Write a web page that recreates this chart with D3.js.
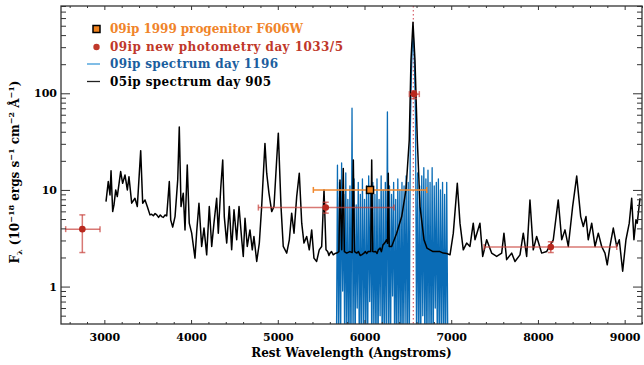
<!DOCTYPE html>
<html><head><meta charset="utf-8">
<script src="https://cdn.jsdelivr.net/npm/d3@7/dist/d3.min.js"></script>
<style>body{margin:0;background:#fff}svg{display:block}</style>
</head><body><svg id="c" width="644" height="365"></svg>
<script>
// ---------- DATA ----------
const xDomain = [2500, 9200];
const yDomain = [0.41, 800];
const xMajor = [3000, 4000, 5000, 6000, 7000, 8000, 9000];
const xMinor = [2600,2800,3200,3400,3600,3800,4200,4400,4600,4800,5200,5400,5600,5800,6200,6400,6600,6800,7200,7400,7600,7800,8200,8400,8600,8800,9200];
const yMajor = [1, 10, 100];
const yMinor = [0.5,0.6,0.7,0.8,0.9,2,3,4,5,6,7,8,9,20,30,40,50,60,70,80,90,200,300,400,500,600,700,800];
const halpha = 6563;

// 05ip spectrum day 905
const blackWave = [3019,3045,3065,3077,3096,3111,3131,3149,3188,3211,3238,3265,3284,3315,3353,3380,3419,3442,3469,3495,3526,3545,3565,3585,3604,3625,3645,3661,3680,3700,3719,3749,3765,3788,3815,3846,3864,3884,3910,3930,3956,3979,4007,4045,4065,4091,4122,4149,4180,4210,4238,4264,4295,4314,4342,4365,4383,4411,4441,4468,4495,4526,4553,4584,4602,4622,4648,4679,4706,4725,4757,4787,4814,4852,4872,4898,4930,4956,4987,5006,5037,5063,5103,5133,5160,5187,5218,5248,5276,5302,5333,5363,5391,5417,5448,5478,5506,5533,5556,5575,5590,5602,5620,5640,5660,5679,5705,5717,5737,5755,5768,5794,5830,5858,5871,5885,5910,5930,5950,5967,5990,6010,6025,6043,6072,6083,6095,6109,6130,6145,6159,6180,6195,6213,6230,6256,6266,6274,6285,6313,6371,6429,6478,6516,6536,6559,6582,6609,6640,6686,6720,6755,6790,6832,6870,6908,6950,6986,7024,7070,7101,7139,7178,7216,7254,7274,7331,7363,7409,7466,7524,7582,7608,7639,7697,7735,7793,7831,7870,7908,7946,7985,8043,8101,8177,8234,8274,8312,8350,8400,8447,8493,8523,8554,8580,8620,8658,8696,8735,8773,8799,8830,8869,8908,8938,8977,9015,9053,9081,9107,9130,9145,9177];
const blackFlux = [7.57,12.2,8.88,15.8,5.97,7.0,10,8.53,15.5,11.7,14.3,10,13.7,7.29,8.2,6.73,25.5,7.29,7.88,6.73,5.52,5.6,5.4,5.7,5.52,5.2,5.5,5.3,5.2,5.5,5.38,12.2,4.9,4.12,5.3,12.7,44.7,6.73,9.25,3.86,18.1,4.53,3.57,1.97,3.71,7.29,2.6,4.03,2.13,6.73,2.6,4.53,8.2,3.57,10.4,20.4,5.3,2.82,6.73,2.4,6.22,3.05,6.73,3.05,2.05,5.1,2.6,3.86,2.4,3.3,1.82,2.82,6.73,30.3,14.9,9.25,5.97,6.73,20.4,38.7,6.73,2.6,2.22,3.05,5.75,3.57,8.53,14.9,4.53,2.82,3.3,2.4,3.86,1.97,1.82,2.4,2.6,10,2.4,2.3,2.1,2.22,2.3,2.13,2.2,2.22,2.3,12.7,2.4,16.7,2.3,2.22,2.3,2.25,20.4,2.3,2.22,2.3,2.1,2.13,2.2,2.3,2.2,2.31,2.3,20.4,2.3,2.29,2.3,2.2,2.4,2.5,2.3,2.7,2.8,3.05,2.8,14.9,2.6,2.6,3.57,5.3,10,32.8,220,542,220,32.8,6.73,3.05,2.5,2.4,2.3,2.31,2.3,2.22,2.2,2.13,3.57,11.7,4.53,2.4,2.82,2.6,4.53,3.05,4.53,2.05,3.05,2.22,2.05,2.22,3.57,1.9,2.22,1.82,2.13,3.57,2.05,7.88,2.4,3.3,2.22,2.31,3.05,7.88,3.05,3.86,2.6,6.73,13.9,5.3,4.18,5.3,3.05,4.53,2.6,3.57,2.6,2.22,1.68,2.6,4.03,2.6,3.05,1.44,3.05,4.53,8.2,3.05,4.9,4.53,8.2];

// 09ip spectrum day 1196
const blueWave = [5676,5688,5700,5712,5724,5736,5748,5760,5772,5784,5796,5808,5820,5832,5844,5856,5868,5880,5892,5904,5916,5928,5940,5952,5964,5976,5988,6000,6012,6024,6036,6048,6060,6072,6084,6096,6108,6120,6132,6144,6156,6168,6180,6192,6204,6216,6228,6240,6252,6264,6276,6288,6300,6312,6324,6336,6348,6360,6372,6384,6396,6408,6420,6432,6444,6456,6468,6480,6492,6504,6516,6528,6540,6552,6564,6576,6588,6600,6612,6624,6636,6648,6660,6672,6684,6696,6708,6720,6732,6744,6756,6768,6780,6792,6804,6816,6828,6840,6852,6864,6876,6888,6900,6912,6924,6936,6948,6960,6972];
const blueFlux = [0.2,18,0.3,12,0.2,19,0.9,9,0.2,15,0.3,8,0.2,11,0.2,70,0.3,13,0.2,7,0.6,12,0.2,9,0.2,13,0.4,8,0.2,11,0.2,14,0.7,10,0.2,12,0.3,9,0.2,13,0.2,8,0.5,14,0.2,10,0.2,12,0.3,64,0.2,11,0.2,9,0.8,12,0.2,8,0.2,13,0.3,10,0.2,12,0.2,11,0.4,14,0.2,12,0.2,40,150,330,380,200,60,0.3,15,0.2,11,0.2,14,0.5,17,0.2,13,0.2,16,0.3,12,0.2,17,0.2,11,0.6,12,0.2,13,0.2,10,0.3,12,0.2,9,0.2,12,0.3,0.2];

// 09ip 1999 progenitor F606W
const progWave = [6064], progFlux = [10], progXLo = [5410], progXHi = [6718];

// 09ip new photometry day 1033/5
const photWave = [2746, 5553, 6571, 8148];
const photFlux = [3.93, 6.57, 98, 2.56];
const photXLo = [2554, 4776, 6517, 7379];
const photXHi = [2950, 6341, 6632, 8909];
const photYLo = [2.25, 5.75, 88, 2.25];
const photYHi = [5.52, 7.46, 106, 2.91];

const legendLabels = ["09ip 1999 progenitor F606W", "09ip new photometry day 1033/5", "09ip spectrum day 1196", "05ip spectrum day 905"];
const legendText = ["#f0842a", "#c0382a", "#1b5e9e", "#000000"];
const legendWidth = [193, 233, 168, 161];

// ---------- DRAW ----------
const FONT = "'DejaVu Serif', serif";
const svg = d3.select('#c');
const M = {l:61, r:642, t:6, b:324};
const x = d3.scaleLinear().domain(xDomain).range([M.l, M.r]);
const y = d3.scaleLog().domain(yDomain).range([M.b, M.t]);

svg.append('defs').append('clipPath').attr('id','clip')
  .append('rect').attr('x',M.l).attr('y',M.t).attr('width',M.r-M.l).attr('height',M.b-M.t);
const plot = svg.append('g').attr('clip-path','url(#clip)');

// H-alpha dotted line
plot.append('line').attr('x1',x(halpha)).attr('x2',x(halpha)).attr('y1',M.t).attr('y2',M.b)
  .attr('stroke','#d8606a').attr('stroke-width',1.2).attr('stroke-dasharray','1.5,2.5');

const line = d3.line().x(d=>x(d[0])).y(d=>y(d[1]));
plot.append('path').datum(d3.zip(blueWave, blueFlux)).attr('d', line)
  .attr('fill','none').attr('stroke','#0a6cb6').attr('stroke-width',1.3).attr('stroke-linejoin','round');
plot.append('path').datum(d3.zip(blackWave, blackFlux)).attr('d', line)
  .attr('fill','none').attr('stroke','#000').attr('stroke-width',1.5).attr('stroke-linejoin','round');

// error bars
function errX(g, xs, ys, lo, hi, col, op){
  xs.forEach((_,i)=>{
    g.append('line').attr('x1',x(lo[i])).attr('x2',x(hi[i])).attr('y1',y(ys[i])).attr('y2',y(ys[i]))
      .attr('stroke',col).attr('stroke-width',1.5).attr('opacity',op);
    [lo[i],hi[i]].forEach(v=>g.append('line').attr('x1',x(v)).attr('x2',x(v))
      .attr('y1',y(ys[i])-3).attr('y2',y(ys[i])+3).attr('stroke',col).attr('stroke-width',1.5).attr('opacity',op));
  });
}
function errY(g, xs, lo, hi, col, op){
  xs.forEach((_,i)=>{
    g.append('line').attr('x1',x(xs[i])).attr('x2',x(xs[i])).attr('y1',y(lo[i])).attr('y2',y(hi[i]))
      .attr('stroke',col).attr('stroke-width',1.5).attr('opacity',op);
    [lo[i],hi[i]].forEach(v=>g.append('line').attr('x1',x(xs[i])-3).attr('x2',x(xs[i])+3)
      .attr('y1',y(v)).attr('y2',y(v)).attr('stroke',col).attr('stroke-width',1.5).attr('opacity',op));
  });
}
const eg = plot.append('g');
errX(eg, progWave, progFlux, progXLo, progXHi, '#f0882e', 1);
errX(eg, photWave, photFlux, photXLo, photXHi, '#c8403a', 0.7);
errY(eg, photWave, photYLo, photYHi, '#c8403a', 0.7);
eg.selectAll('circle.p').data(d3.zip(photWave, photFlux)).join('circle')
  .attr('cx',d=>x(d[0])).attr('cy',d=>y(d[1])).attr('r',3.3).attr('fill','#b8281e');
eg.selectAll('rect.p').data(d3.zip(progWave, progFlux)).join('rect')
  .attr('x',d=>x(d[0])-3.5).attr('y',d=>y(d[1])-3.5).attr('width',7).attr('height',7)
  .attr('fill','#f0821e').attr('stroke','#000').attr('stroke-width',1.5);

// axes
function styleAxis(g){
  g.select('.domain').remove();
  g.selectAll('line').attr('stroke','#333').attr('stroke-width',1);
  g.selectAll('text').attr('font-family',FONT).attr('font-weight','bold').attr('font-size',11).attr('fill','#000');
}
svg.append('g').attr('transform',`translate(0,${M.b})`)
  .call(d3.axisBottom(x).tickValues(xMajor).tickSizeInner(-4).tickSizeOuter(0).tickPadding(9).tickFormat(d3.format('d'))).call(styleAxis);
svg.append('g').attr('transform',`translate(0,${M.b})`)
  .call(d3.axisBottom(x).tickValues(xMinor).tickSizeInner(-2).tickSizeOuter(0).tickFormat('')).call(styleAxis);
svg.append('g').attr('transform',`translate(0,${M.t})`)
  .call(d3.axisTop(x).tickValues(xMajor).tickSizeInner(-4).tickSizeOuter(0).tickFormat('')).call(styleAxis);
svg.append('g').attr('transform',`translate(0,${M.t})`)
  .call(d3.axisTop(x).tickValues(xMinor).tickSizeInner(-2).tickSizeOuter(0).tickFormat('')).call(styleAxis);
svg.append('g').attr('transform',`translate(${M.l},0)`)
  .call(d3.axisLeft(y).tickValues(yMajor).tickSizeInner(-9).tickSizeOuter(0).tickPadding(4).tickFormat(d3.format('d'))).call(styleAxis);
svg.append('g').attr('transform',`translate(${M.l},0)`)
  .call(d3.axisLeft(y).tickValues(yMinor).tickSizeInner(-5).tickSizeOuter(0).tickFormat('')).call(styleAxis);
svg.append('g').attr('transform',`translate(${M.r},0)`)
  .call(d3.axisRight(y).tickValues(yMajor).tickSizeInner(-9).tickSizeOuter(0).tickFormat('')).call(styleAxis);
svg.append('g').attr('transform',`translate(${M.r},0)`)
  .call(d3.axisRight(y).tickValues(yMinor).tickSizeInner(-5).tickSizeOuter(0).tickFormat('')).call(styleAxis);

svg.append('rect').attr('x',M.l).attr('y',M.t).attr('width',M.r-M.l).attr('height',M.b-M.t)
  .attr('fill','none').attr('stroke','#333').attr('stroke-width',1.3);

// axis titles
svg.append('text').attr('x',(M.l+M.r)/2).attr('y',357).attr('text-anchor','middle')
  .attr('font-family',FONT).attr('font-weight','bold').attr('font-size',12).text('Rest Wavelength (Angstroms)');

const yl = svg.append('text').attr('transform','translate(18.5,172) rotate(-90)').attr('text-anchor','middle')
  .attr('font-family',FONT).attr('font-weight','bold').attr('font-size',12);
yl.append('tspan').text('F');
yl.append('tspan').attr('dy',3).attr('font-size',8).text('λ');
yl.append('tspan').attr('dy',-3).text(' (10');
yl.append('tspan').attr('dy',-5).attr('font-size',8).text('−18');
yl.append('tspan').attr('dy',5).text(' ergs s');
yl.append('tspan').attr('dy',-5).attr('font-size',8).text('−1');
yl.append('tspan').attr('dy',5).text(' cm');
yl.append('tspan').attr('dy',-5).attr('font-size',8).text('−2');
yl.append('tspan').attr('dy',5).text(' Å');
yl.append('tspan').attr('dy',-5).attr('font-size',8).text('−1');
yl.append('tspan').attr('dy',5).text(')');

// legend
const lg = svg.append('g');
const ly = [29, 47, 64, 81.5];
legendLabels.forEach((t,i)=>{
  lg.append('text').attr('x',110).attr('y',ly[i]+4).attr('font-family',FONT).attr('font-weight','bold')
    .attr('font-size',12).attr('fill',legendText[i]).attr('textLength',legendWidth[i]).attr('lengthAdjust','spacing').text(t);
});
lg.append('rect').attr('x',93).attr('y',ly[0]-3.5).attr('width',7).attr('height',7)
  .attr('fill','#f0821e').attr('stroke','#000').attr('stroke-width',1.5);
lg.append('circle').attr('cx',96.5).attr('cy',ly[1]).attr('r',3.2).attr('fill','#c0382a');
lg.append('line').attr('x1',87).attr('x2',100).attr('y1',ly[2]).attr('y2',ly[2]).attr('stroke','#3b9ad8').attr('stroke-width',1.3);
lg.append('line').attr('x1',87).attr('x2',100).attr('y1',ly[3]).attr('y2',ly[3]).attr('stroke','#222').attr('stroke-width',1.3);
</script></body></html>
